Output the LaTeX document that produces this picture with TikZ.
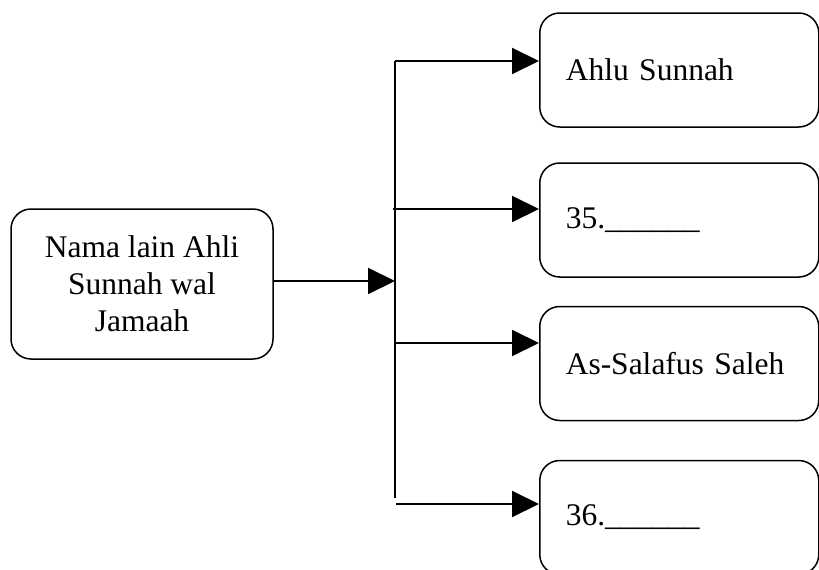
\documentclass[tikz,border=0pt]{standalone}
\usepackage{fontspec}
\setmainfont{Liberation Serif}
\usetikzlibrary{arrows.meta}
\begin{document}
\begin{tikzpicture}[x=1pt,y=-1pt,
  kotak/.style={draw,line width=1.5pt,rounded corners=20pt,font=\fontsize{31.5}{37}\selectfont},
  isian/.style={kotak,anchor=west,minimum height=114pt,text width=227pt,inner xsep=26pt,align=left},
  panah/.style={line width=2pt,-{Triangle[length=27pt,width=26pt]}}]
\useasboundingbox (0,0) rectangle (819,570);
\clip (0,0) rectangle (819,570);
\node [kotak,minimum width=262pt,minimum height=150pt,align=center] (induk) at (142,284) {Nama lain Ahli\\Sunnah wal\\Jamaah};
\node [isian] (b1) at (539,70) {Ahlu Sunnah};
\node [isian] (b2) at (539,220) {35.\_\_\_\_\_\_};
\node [isian] (b3) at (539,363.5) {As-Salafus Saleh};
\node [isian] (b4) at (539,517.5) {36.\_\_\_\_\_\_};
\coordinate (atas) at (395,61);
\coordinate (bawah) at (395,498);
\coordinate (hub) at (395,281);
\coordinate (j2) at (393,209);
\coordinate (j3) at (395,343);
\coordinate (j4) at (396,504);
\draw [line width=1.5pt](atas) -- (bawah) ;
\draw [panah]([yshift=3pt]induk.east) -- (hub) ;
\draw [panah](atas) -- (atas -| b1.west) ;
\draw [panah](j2) -- (j2 -| b2.west) ;
\draw [panah](j3) -- (j3 -| b3.west) ;
\draw [panah](j4) -- (j4 -| b4.west) ;
\end{tikzpicture}
\end{document}
